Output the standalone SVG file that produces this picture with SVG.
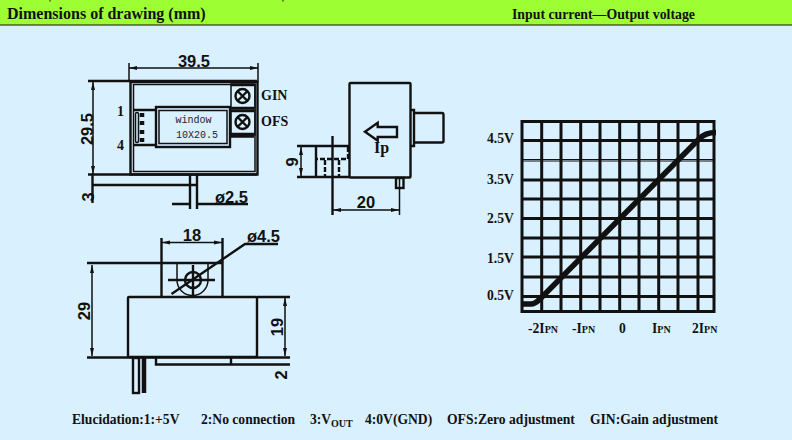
<svg xmlns="http://www.w3.org/2000/svg" width="792" height="440" viewBox="0 0 792 440">
<style>
.t{font-family:"Liberation Serif",serif;font-weight:bold;font-size:13.6px;fill:#111}
.d{font-family:"Liberation Sans",sans-serif;font-weight:bold;font-size:16.500px;fill:#111}
.l{fill:none;stroke:#111;stroke-width:1.5}
.m{fill:none;stroke:#111;stroke-width:2.4}
.g{fill:none;stroke:#111;stroke-width:3}
.w{font-family:"Liberation Mono",monospace;font-size:10px;fill:#223}
.s{font-size:10px}
</style>
<defs>
<marker id="a" markerWidth="8" markerHeight="6" refX="8" refY="3" orient="auto-start-reverse" markerUnits="userSpaceOnUse"><path d="M0 1L8 3L0 5Z" fill="#111"/></marker>
</defs>
<rect width="792" height="440" fill="#d9f0ff"/>
<rect width="792" height="25" fill="#9dff33"/>
<path d="M0 25H792" stroke="#111" stroke-width="1"/>
<path d="M50 0V1.500M283 0V1.500" stroke="#111" stroke-width="1"/>
<text x="7" y="19" class="t" style="font-size:16px">Dimensions of drawing (mm)</text>
<text x="512" y="19" class="t" style="font-size:13.800px">Input current—Output voltage</text>

<g id="top-view">
<rect x="130.500" y="82" width="127" height="92.500" class="m"/>
<rect x="133.500" y="84.500" width="121.500" height="87" class="l"/>
<path d="M88 81H257M88 174.500H257" class="m"/>
<path d="M129 63V82M258 63V82" class="l"/>
<path d="M129 68H258" class="l" marker-start="url(#a)" marker-end="url(#a)"/>
<text x="194" y="67" class="d" text-anchor="middle">39.5</text>
<path d="M93 82V174" class="l" marker-start="url(#a)" marker-end="url(#a)"/>
<text transform="translate(93,129) rotate(-90)" class="d" text-anchor="middle">29.5</text>
<path d="M92 185H197M92.500 175V203M190 175V209M197 175V209" class="m"/>
<path d="M172 204H190M248 204H198" class="m"/>
<text transform="translate(94,197) rotate(-90)" class="d" text-anchor="middle">3</text>
<text x="215" y="203" class="d">ø2.5</text>
<rect x="231" y="84" width="24" height="24" class="l"/>
<rect x="231" y="110" width="24" height="25" class="l"/>
<path d="M231 85H254M231 108H254M231 111H254M231 134H254M231 136.500H254" class="m"/>
<circle cx="242.500" cy="96" r="7" class="m"/><path d="M237.500 91L247.500 101M247.500 91L237.500 101" class="m"/>
<circle cx="242.500" cy="122" r="7" class="m"/><path d="M237.500 117L247.500 127M247.500 117L237.500 127" class="m"/>
<text x="261" y="100" class="t" style="font-size:14px">GIN</text>
<text x="261" y="126" class="t" style="font-size:14px">OFS</text>
<rect x="156" y="107" width="74" height="40" class="m"/>
<rect x="159" y="110.500" width="68" height="33" class="l"/>
<text x="193.500" y="122.700" class="w" text-anchor="middle">window</text>
<text x="176" y="137.700" class="w">10X20.5</text>
<path d="M134 110H156M134 145H156" class="m"/>
<rect x="135.500" y="112.500" width="3" height="30" rx="1.500" class="l"/>
<path d="M142 113v4M142 121v4M142 130v4M142 138v4" stroke="#111" stroke-width="4.500" fill="none"/>
<text x="117" y="116" class="t" style="font-size:14px">1</text>
<text x="117" y="150" class="t" style="font-size:14px">4</text>
</g>

<g id="side-view">
<rect x="349.500" y="83" width="61" height="94.500" rx="1" class="m"/>
<path d="M411 110H414V146H411" class="m"/>
<path d="M414 113H442Q443.500 113 443.500 115V141Q443.500 142.500 442 142.500H414" class="m"/>
<path d="M365 131.700L377.700 122.700V127H397V137H377.700V140.700Z" class="m"/>
<text x="374" y="153" class="t" style="font-size:16px">Ip</text>
<path d="M297 177H349" class="m"/>
<path d="M297 146H349M316 146V178" class="m"/>
<path d="M301 147V176" class="l" marker-start="url(#a)" marker-end="url(#a)"/>
<text transform="translate(298,162) rotate(-90)" class="d" text-anchor="middle">9</text>
<path d="M348 147V159H317M325 160V177M339 160V177" class="m" stroke-dasharray="5 2"/>
<path d="M332.500 136V215" class="m"/>
<path d="M399.500 178V215" class="l"/>
<rect x="396" y="178" width="7.500" height="10" class="m"/>
<path d="M333 210H399" class="l" marker-start="url(#a)" marker-end="url(#a)"/>
<text x="366" y="208" class="d" text-anchor="middle">20</text>
</g>

<g id="front-view">
<rect x="128" y="297" width="129" height="60" rx="1" class="m"/>
<path d="M257 297H290M87 263H223M87 357.500H290" class="m"/>
<path d="M161.500 238V297M222.500 238V297" class="m"/>
<path d="M162 242.500H222" class="l" marker-start="url(#a)" marker-end="url(#a)"/>
<text x="192" y="241" class="d" text-anchor="middle">18</text>
<path d="M92 265V356" class="l" marker-start="url(#a)" marker-end="url(#a)"/>
<text transform="translate(90,311) rotate(-90)" class="d" text-anchor="middle">29</text>
<path d="M285 298V356" class="l" marker-start="url(#a)" marker-end="url(#a)"/>
<text transform="translate(283,327) rotate(-90)" class="d" text-anchor="middle">19</text>
<path d="M177 264V280A15.500 15.500 0 0 0 208 280V264" class="l"/>
<circle cx="193" cy="280" r="8" class="m"/>
<path d="M168 280H215M193 265V295" class="m"/>
<path d="M171.500 294L245 244H278" class="m"/>
<text x="247" y="242" class="d">ø4.5</text>
<path d="M156 358V364.500H231V358M231 364.500H290" class="m"/>
<rect x="133" y="358" width="6" height="35" class="m"/>
<path d="M144 358V393" stroke="#111" stroke-width="4.500"/>
<path d="M139 372V380" stroke="#111" stroke-width="2"/>
<text transform="translate(287,375) rotate(-90)" class="d" text-anchor="middle">2</text>
</g>

<g id="chart">
<path class="g" d="M522 121.500H714M522 140.500H714M522 180H714M522 199H714M522 218.500H714M522 238H714M522 257H714M522 277H714M522 296.500H714M522 311.500H714"/>
<path d="M522 159.500H714M522 161H714" stroke="#111" stroke-width="1"/>
<path class="g" d="M522 120V313M541.700 120V313M561 120V313M580.700 120V313M600 120V313M619.700 120V313M639 120V313M658.700 120V313M678 120V313M698 120V313M714 120V313"/>
<path d="M522 304H531Q535 304 540 299L699 139Q705 132.500 716 132.500" fill="none" stroke="#111" stroke-width="5.500"/>
<g class="t">
<text x="487" y="143">4.5V</text>
<text x="487" y="183.500">3.5V</text>
<text x="487" y="222.500">2.5V</text>
<text x="487" y="262.500">1.5V</text>
<text x="487" y="299.500">0.5V</text>
<text x="528" y="333">-2I<tspan class="s">PN</tspan></text>
<text x="572" y="333">-I<tspan class="s">PN</tspan></text>
<text x="619" y="333">0</text>
<text x="652" y="333">I<tspan class="s">PN</tspan></text>
<text x="692" y="333">2I<tspan class="s">PN</tspan></text>
</g>
</g>

<text y="424" class="t"><tspan x="72">Elucidation:1:+5V</tspan><tspan x="201">2:No connection</tspan><tspan x="310">3:V</tspan><tspan x="331" dy="3" style="font-size:10px">OUT</tspan><tspan x="365" dy="-3">4:0V(GND)</tspan><tspan x="447">OFS:Zero adjustment</tspan><tspan x="590">GIN:Gain adjustment</tspan></text>
</svg>
